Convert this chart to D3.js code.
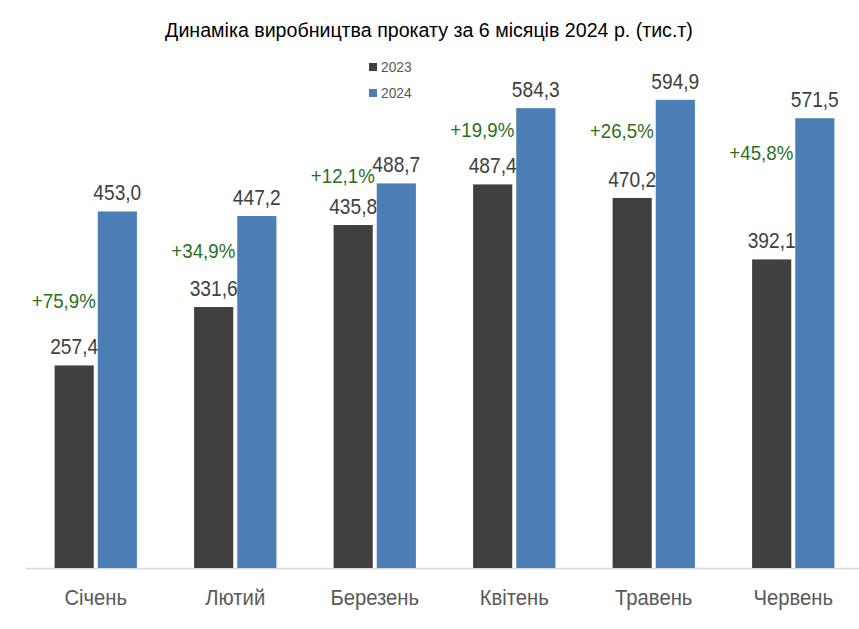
<!DOCTYPE html>
<html>
<head>
<meta charset="utf-8">
<script src="https://cdn.jsdelivr.net/npm/d3@7"></script>
<style>
  body { margin: 0; background: #fff; }
  text { font-family: "Liberation Sans", Arial, sans-serif; }
</style>
</head>
<body>
<svg id="chart" width="859" height="629"></svg>
<script>
const title = "Динаміка виробництва прокату за 6 місяців 2024 р. (тис.т)";
const categories = ["Січень", "Лютий", "Березень", "Квітень", "Травень", "Червень"];
const seriesNames = ["2023", "2024"];
const values2023 = [257.4, 331.6, 435.8, 487.4, 470.2, 392.1];
const values2024 = [453.0, 447.2, 488.7, 584.3, 594.9, 571.5];
const changeLabels = ["+75,9%", "+34,9%", "+12,1%", "+19,9%", "+26,5%", "+45,8%"];
// vertical anchor of each change label, in data units
const changeLabelAt = [330, 394, 489, 548, 546, 518];

const colors = { "2023": "#404040", "2024": "#4a7eb5" };
const svg = d3.select("#chart");

const x = d3.scaleBand().domain(categories).range([26, 863]).paddingInner(0.41).paddingOuter(0.205);
const xs = d3.scaleBand().domain(seriesNames).range([0, x.bandwidth()]).paddingInner(0.093);
const y = d3.scaleLinear().domain([0, 600]).range([568, 568 - 600 * 0.787]);

const fmt = v => v.toFixed(1).replace(".", ",");

// condense text horizontally (emulates a narrow font) while keeping real text
function squeeze(sel, k) {
  sel.each(function () {
    const w = this.getComputedTextLength();
    d3.select(this).attr("textLength", w * k).attr("lengthAdjust", "spacingAndGlyphs");
  });
}

// title
svg.append("text").attr("x", 429).attr("y", 37).attr("text-anchor", "middle")
  .attr("font-size", 20).attr("fill", "#000").text(title).call(squeeze, 0.98);

// legend
const legend = svg.append("g");
seriesNames.forEach((s, i) => {
  const g = legend.append("g").attr("transform", `translate(369, ${63 + i * 26})`);
  g.append("rect").attr("width", 8).attr("height", 8).attr("fill", colors[s]);
  g.append("text").attr("x", 12).attr("y", 9).attr("font-size", 15).attr("fill", "#595959")
    .text(s).call(squeeze, 0.92);
});

// axis
const xAxis = svg.append("g").attr("transform", "translate(0,568)")
  .call(d3.axisBottom(x).tickSize(0).tickPadding(0));
xAxis.select(".domain").attr("stroke", "#d9d9d9").attr("stroke-width", 1.3)
  .attr("d", "M26,0.5H859");
xAxis.selectAll(".tick text").attr("font-size", 22).attr("fill", "#595959")
  .attr("dy", null).attr("y", 37).style("font-family", "'Liberation Sans', Arial, sans-serif")
  .call(squeeze, 0.92);

// bars
const data = categories.map((c, i) => ({ c, i, vals: [values2023[i], values2024[i]] }));
const groups = svg.append("g").selectAll("g").data(data).join("g")
  .attr("transform", d => `translate(${x(d.c)},0)`);

groups.selectAll("rect").data(d => seriesNames.map((s, j) => ({ s, v: d.vals[j] })))
  .join("rect")
  .attr("x", d => xs(d.s)).attr("width", xs.bandwidth())
  .attr("y", d => y(d.v)).attr("height", d => y(0) - y(d.v))
  .attr("fill", d => colors[d.s]);

groups.selectAll("text.val").data(d => seriesNames.map((s, j) => ({ s, v: d.vals[j] })))
  .join("text").attr("class", "val")
  .attr("x", d => xs(d.s) + xs.bandwidth() / 2).attr("y", d => y(d.v) - 11)
  .attr("text-anchor", "middle").attr("font-size", 22).attr("fill", "#404040")
  .text(d => fmt(d.v)).call(squeeze, 0.87);

groups.append("text").attr("class", "pct")
  .attr("x", x.bandwidth() / 2).attr("y", d => y(changeLabelAt[d.i]))
  .attr("text-anchor", "end").attr("font-size", 21).attr("fill", "#2a6e1e")
  .text(d => changeLabels[d.i]).call(squeeze, 0.89);
</script>
</body>
</html>
